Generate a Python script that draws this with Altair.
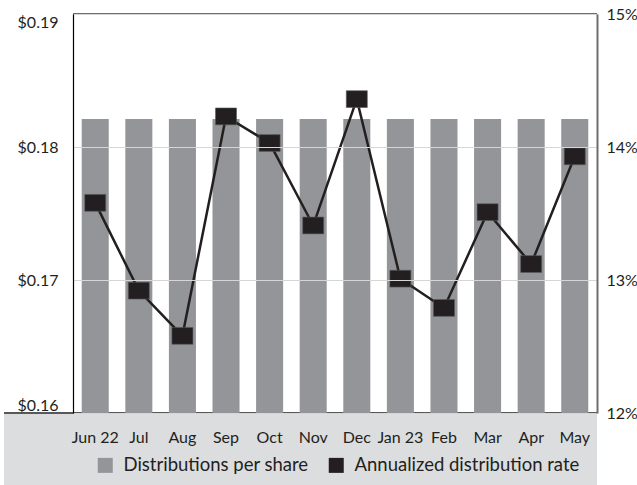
import altair as alt
import pandas as pd

months = ["Jun 22", "Jul", "Aug", "Sep", "Oct", "Nov", "Dec", "Jan 23", "Feb", "Mar", "Apr", "May"]
dist_per_share = [0.1821, 0.1821, 0.1821, 0.1821, 0.1821, 0.1821, 0.1821, 0.1821, 0.1821, 0.1821, 0.1821, 0.1821]
dist_rate = [13.58, 12.92, 12.58, 14.23, 14.03, 13.41, 14.36, 13.01, 12.79, 13.51, 13.12, 13.93]
series_names = ["Distributions per share", "Annualized distribution rate"]
left_ticks = [0.16, 0.17, 0.18, 0.19]
right_ticks = [12, 13, 14, 15]

FONT = "Lato"
TXT = "#231f20"
BAR = "#939598"
BAND = "#dcddde"
LW = 400

bars_df = pd.DataFrame({"month": months, "value": dist_per_share, "series": series_names[0]})
rate_df = pd.DataFrame({"month": months, "rate": dist_rate, "series": series_names[1]})

W, H = 524, 399

xenc = alt.X(
    "month:N", sort=months,
    scale=alt.Scale(paddingInner=0.38, paddingOuter=0.2),
    axis=alt.Axis(title=None, labelAngle=0, ticks=False, domain=False, labelFontSize=16,
                  labelFontWeight=LW, labelPadding=16, labelColor=TXT, labelFont=FONT,
                  zindex=1),
)

color = alt.Color(
    "series:N",
    scale=alt.Scale(domain=series_names, range=[BAR, TXT]),
    legend=alt.Legend(title=None, orient="none", legendX=23, legendY=442, direction="horizontal",
                      symbolType="square", symbolSize=225, symbolStrokeWidth=0, labelFontSize=18.5,
                      labelFontWeight="normal", labelFont=FONT, labelColor=TXT, labelOffset=9,
                      columnPadding=18, padding=0, labelLimit=400),
)

band = alt.Chart(bars_df).mark_rect(color=BAND).encode(
    x=alt.value(-69), x2=alt.value(W), y=alt.value(H), y2=alt.value(H + 72)
)
band_line = alt.Chart(bars_df).mark_rule(color="#58595b", strokeWidth=1.5).encode(
    x=alt.value(-69), x2=alt.value(W), y=alt.value(H)
)

yleft = alt.Y(
    "value:Q",
    scale=alt.Scale(domain=[0.16, 0.19], nice=False, zero=False),
    axis=alt.Axis(title=None, values=left_ticks, format="$.2f", labelFlush=True, ticks=False,
                  domainColor="black", domainWidth=1.2, gridColor="#d6d6d6", gridWidth=1,
                  labelFontSize=16, labelFontWeight=LW, labelFont=FONT, labelColor=TXT,
                  labelPadding=15, zindex=1),
)

bars = alt.Chart(bars_df).mark_bar().encode(
    x=xenc, y=yleft, y2=alt.datum(0.16), color=color
)

top_line = alt.Chart(bars_df).mark_rule(color="#6d6e71", strokeWidth=2).encode(
    y=alt.datum(0.19)
)

yright = alt.Y(
    "rate:Q",
    scale=alt.Scale(domain=[12, 15], nice=False, zero=False),
    axis=alt.Axis(title=None, orient="right", values=right_ticks, labelExpr="datum.value + '%'",
                  ticks=False, grid=False, domainColor="#6d6e71", domainWidth=2,
                  labelFontSize=16, labelFontWeight=LW, labelFont=FONT, labelColor=TXT,
                  labelPadding=9, zindex=1),
)

line = alt.Chart(rate_df).mark_line(color=TXT, strokeWidth=2.5).encode(x=xenc, y=yright)
points = alt.Chart(rate_df).mark_point(
    shape="M-1,-0.8L1,-0.8L1,0.8L-1,0.8Z", size=441, filled=True, opacity=1,
    stroke="#58595b", strokeWidth=0.6
).encode(x=xenc, y=yright, color=color)

left_layer = alt.layer(band, band_line, bars, top_line)
right_layer = alt.layer(line, points)

chart = alt.layer(left_layer, right_layer).resolve_scale(y="independent").properties(
    width=W, height=H,
    autosize=alt.AutoSizeParams(type="none"),
    padding={"left": 73, "top": 14, "right": 40, "bottom": 72},
).configure_view(stroke=None).configure(font=FONT)

chart.save("out.html", embed_options={"renderer": "svg", "actions": False})
